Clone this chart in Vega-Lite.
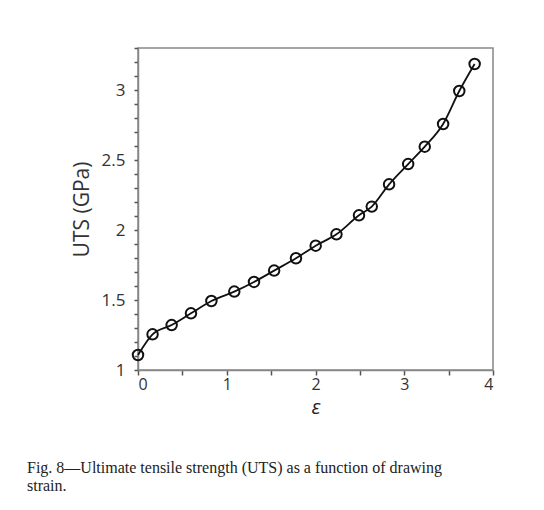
{
  "$schema": "https://vega.github.io/schema/vega-lite/v6.json",
  "width": 355,
  "height": 322,
  "autosize": {"type": "none"},
  "padding": {"left": 138, "top": 48, "right": 51, "bottom": 140},
  "background": "white",
  "title": {
    "text": ["Fig. 8—Ultimate tensile strength (UTS) as a function of drawing", "strain."],
    "orient": "bottom",
    "anchor": "start",
    "frame": "group",
    "dx": -111,
    "offset": 43,
    "font": "Liberation Serif",
    "fontSize": 16,
    "fontWeight": "normal",
    "color": "#222222",
    "lineHeight": 18
  },
  "data": {
    "values": [
      {"strain": 0.0, "uts": 1.107},
      {"strain": 0.164, "uts": 1.255},
      {"strain": 0.379, "uts": 1.321},
      {"strain": 0.597, "uts": 1.405},
      {"strain": 0.827, "uts": 1.493},
      {"strain": 1.085, "uts": 1.56},
      {"strain": 1.307, "uts": 1.629},
      {"strain": 1.534, "uts": 1.71},
      {"strain": 1.78, "uts": 1.798},
      {"strain": 2.002, "uts": 1.888},
      {"strain": 2.236, "uts": 1.969},
      {"strain": 2.49, "uts": 2.105},
      {"strain": 2.634, "uts": 2.167},
      {"strain": 2.829, "uts": 2.326},
      {"strain": 3.044, "uts": 2.471},
      {"strain": 3.231, "uts": 2.595},
      {"strain": 3.438, "uts": 2.757},
      {"strain": 3.62, "uts": 2.993},
      {"strain": 3.793, "uts": 3.186}
    ]
  },
  "encoding": {
    "x": {
      "field": "strain",
      "type": "quantitative",
      "scale": {"domain": [0, 4], "nice": false},
      "axis": {
        "title": "ε",
        "titleFont": "Open Sans",
        "titleFontStyle": "italic",
        "titleFontWeight": "normal",
        "titleFontSize": 20,
        "titleColor": "#222222",
        "titlePadding": 5,
        "values": [0, 0.5, 1, 1.5, 2, 2.5, 3, 3.5, 4],
        "labelExpr": "datum.value % 1 == 0 ? format(datum.value, 'd') : ''",
        "labelFont": "Open Sans",
        "labelFontSize": 16,
        "labelColor": "#333333",
        "labelPadding": 1,
        "tickSize": 5,
        "tickColor": "#555555",
        "tickWidth": 1.5,
        "domainColor": "#888888",
        "domainWidth": 1.5,
        "grid": false
      }
    },
    "y": {
      "field": "uts",
      "type": "quantitative",
      "scale": {"domain": [1, 3.3], "nice": false, "zero": false},
      "axis": {
        "title": "UTS (GPa)",
        "titleFont": "Open Sans",
        "titleFontWeight": "normal",
        "titleFontSize": 21,
        "titleColor": "#333333",
        "titlePadding": 9,
        "values": [1, 1.1, 1.2, 1.3, 1.4, 1.5, 1.6, 1.7, 1.8, 1.9, 2, 2.1, 2.2, 2.3, 2.4, 2.5, 2.6, 2.7, 2.8, 2.9, 3, 3.1, 3.2, 3.3],
        "labelExpr": "abs(datum.value * 2 - round(datum.value * 2)) < 0.001 ? format(datum.value, '~g') : ''",
        "labelFont": "Open Sans",
        "labelFontSize": 17,
        "labelColor": "#333333",
        "labelPadding": 9,
        "tickSize": 4,
        "tickColor": "#555555",
        "tickWidth": 1.5,
        "domainColor": "#888888",
        "domainWidth": 1.5,
        "grid": false
      }
    }
  },
  "layer": [
    {
      "mark": {"type": "line", "interpolate": "monotone", "color": "#111111", "strokeWidth": 1.8, "clip": false}
    },
    {
      "mark": {"type": "point", "shape": "circle", "filled": false, "size": 110, "stroke": "#111111", "strokeWidth": 2, "opacity": 1, "clip": false}
    }
  ],
  "config": {
    "view": {"stroke": "#888888", "strokeWidth": 1.5}
  }
}
